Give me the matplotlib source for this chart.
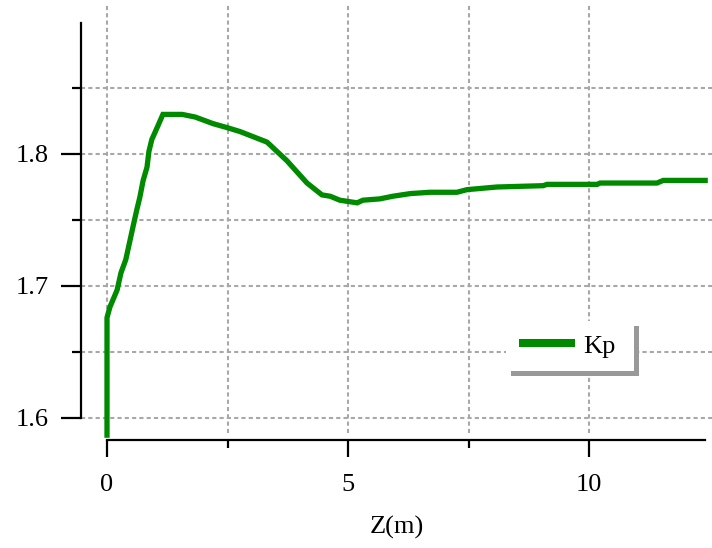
import matplotlib
matplotlib.use("Agg")
import matplotlib.pyplot as plt

# Kp profile along the axial coordinate Z (m)
z_m = [0.0, 0.0, 0.06, 0.21, 0.29, 0.39, 0.48, 0.54, 0.62, 0.68, 0.75, 0.83,
       0.87, 0.93, 1.04, 1.16, 1.56, 1.83, 2.20, 2.49, 2.76, 3.32, 3.73, 4.15,
       4.46, 4.63, 4.83, 5.19, 5.31, 5.66, 5.93, 6.29, 6.70, 7.26, 7.47, 8.09,
       9.05, 9.13, 10.17, 10.23, 11.41, 11.54, 12.41]
kp = [1.587, 1.676, 1.684, 1.697, 1.710, 1.720, 1.735, 1.745, 1.758, 1.767,
      1.780, 1.790, 1.802, 1.811, 1.820, 1.830, 1.830, 1.828, 1.823, 1.820,
      1.817, 1.809, 1.795, 1.778, 1.769, 1.768, 1.765, 1.763, 1.765, 1.766,
      1.768, 1.770, 1.771, 1.771, 1.773, 1.775, 1.776, 1.777, 1.777, 1.778,
      1.778, 1.780, 1.780]

x_major = [0, 5, 10]
x_minor = [2.5, 7.5]
x_grid = [0, 2.5, 5, 7.5, 10]
y_major = [1.6, 1.7, 1.8]
y_minor = [1.65, 1.75, 1.85]
y_grid = [1.6, 1.65, 1.7, 1.75, 1.8, 1.85]
x_label = "Z(m)"
series_name = "Kp"

W, H = 712, 548
GREEN = "#008a00"
GRID = "#a8a8a8"
FONT = "Liberation Serif"
FS = 19

fig = plt.figure(figsize=(W / 100, H / 100), dpi=100)
ax_l, ax_r, ax_b, ax_t = 81, 712, 440, 0
ax = fig.add_axes([ax_l / W, (H - ax_b) / H, (ax_r - ax_l) / W, (ax_b - ax_t) / H])

# pixel scale of the plot: 48.2 px per metre, 1320 px per unit of Kp
x0_px, y16_px = 107, 418
sx, sy = 48.2, 1320.0
ax.set_xlim((ax_l - x0_px) / sx, (ax_r - x0_px) / sx)
ax.set_ylim(1.6 - (ax_b - y16_px) / sy, 1.6 + (y16_px - ax_t) / sy)
ax.set_facecolor("none")

# dashed grid
ax.vlines(x_grid, 1.6 - 15 / sy, 1.6 + 413 / sy, colors=GRID,
          linewidth=1.5, linestyles=(0, (2.0, 1.5)), zorder=1)
ax.hlines(y_grid, *ax.get_xlim(), colors=GRID,
          linewidth=1.5, linestyles=(0, (2.0, 1.5)), zorder=1)

line, = ax.plot(z_m, kp, color=GREEN, linewidth=3.8, label=series_name,
                solid_joinstyle="miter", zorder=3)

for side in ("top", "right"):
    ax.spines[side].set_visible(False)
ax.spines["left"].set_bounds(1.6, 1.6 + 395 / sy)
ax.spines["bottom"].set_bounds(0, (705 - x0_px) / sx)
for side in ("left", "bottom"):
    ax.spines[side].set_linewidth(1.6)

ax.set_xticks(x_major)
ax.set_xticks(x_minor, minor=True)
ax.set_yticks(y_major)
ax.set_yticks(y_minor, minor=True)
ax.set_xticklabels([str(v) for v in x_major])
ax.set_yticklabels([f"{v:.1f}" for v in y_major])
ax.tick_params(axis="x", which="major", direction="out", length=12.5, width=1.6, pad=12)
ax.tick_params(axis="x", which="minor", direction="out", length=5.5, width=1.6)
ax.tick_params(axis="y", which="major", direction="out", length=14.5, width=1.6, pad=9)
ax.tick_params(axis="y", which="minor", direction="out", length=6.5, width=1.6)
for lab in ax.get_xticklabels() + ax.get_yticklabels():
    lab.set_fontfamily(FONT)
    lab.set_fontsize(FS)

ax.set_xlabel(x_label, fontfamily=FONT, fontsize=FS)
ax.xaxis.set_label_coords(0.5, -(534 - ax_b) / (ax_b - ax_t), transform=ax.transAxes)
ax.xaxis.label.set_verticalalignment("baseline")

# legend with a grey drop shadow, stretched to a fixed box width
box_l, box_t, box_w = 506, 321, 128
leg = ax.legend(handles=[line], loc="upper left", mode="expand",
                bbox_to_anchor=(box_l / W, (H - box_t - 50) / H, box_w / W, 50 / H),
                bbox_transform=fig.transFigure,
                borderaxespad=0, frameon=True, fancybox=False,
                shadow={"ox": 3.6, "oy": -3.6, "color": "#999999", "alpha": 1},
                prop={"family": FONT, "size": FS}, handlelength=2.12,
                handletextpad=0.3, borderpad=0.5)
leg.get_frame().set_facecolor("white")
leg.get_frame().set_edgecolor("white")
leg.get_frame().set_linewidth(0)
leg.set_zorder(5)
for h in leg.get_lines():
    h.set_linewidth(5.8)
    h.set_solid_capstyle("butt")

fig.savefig("out.png", dpi=100)
